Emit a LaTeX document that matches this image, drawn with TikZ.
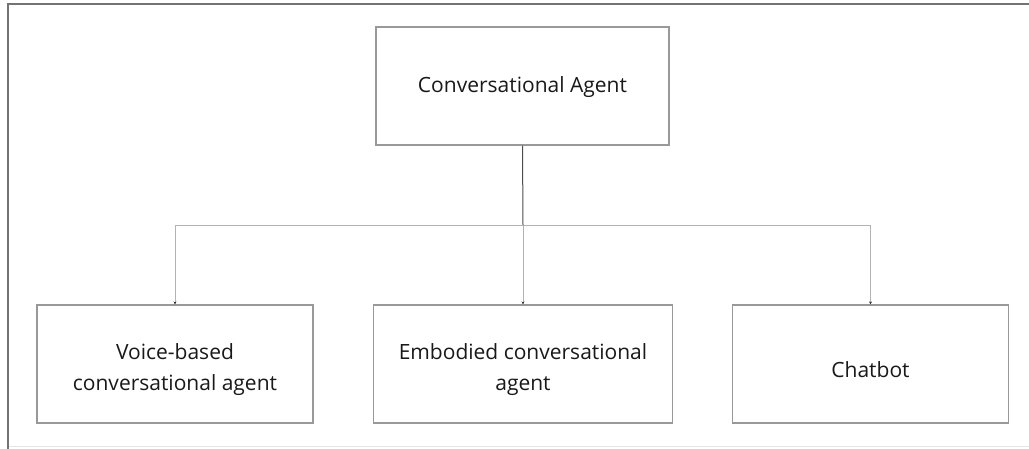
\documentclass[tikz,border=0pt]{standalone}
\usepackage{fontspec}
\setmainfont{Open Sans}
\usetikzlibrary{arrows.meta}
\begin{document}
\begin{tikzpicture}[x=1pt,y=-1pt,
  box/.style={draw=black!40,line width=1.2pt,fill=white,inner sep=0pt,minimum height=118pt},
  txt/.style={align=center,font=\fontsize{21}{31}\selectfont,inner sep=0pt,text=black!90},
  trunk/.style={draw=black!70,line width=1pt},
  branch/.style={draw=black!30,line width=1pt,-{Stealth[length=3pt,width=3pt,black!80]}}]
\useasboundingbox (0,0) rectangle (1029,448);
\draw[black!55,line width=2pt] (8,449) -- (8,4) -- (1030,4);
\draw[black!10,line width=1pt] (9,446) -- (1030,446);
\node[box,minimum width=293pt] (ca) at (522.5,86) {};
\node[txt] (cat) at ([yshift=-1pt]ca.center) {Conversational Agent};
\node[box,minimum width=276pt] (vb) at (175,364) {};
\node[txt] (vbt) at ([yshift=-6pt]vb.center) {Voice-based\\conversational agent};
\node[box,minimum width=299pt] (ec) at (523,364) {};
\node[txt] (ect) at ([yshift=-6pt]ec.center) {Embodied conversational\\agent};
\node[box,minimum width=276pt] (cb) at (870.5,364) {};
\node[txt] (cbt) at ([yshift=-6pt]cb.center) {Chatbot};
\coordinate (j) at (523,225);
\draw[trunk] (ca.south) -- (j);
\draw[branch] (j) -- (ec.north);
\draw[branch] (j) -| (vb.north);
\draw[branch] (j) -| (cb.north);
\end{tikzpicture}
\end{document}
